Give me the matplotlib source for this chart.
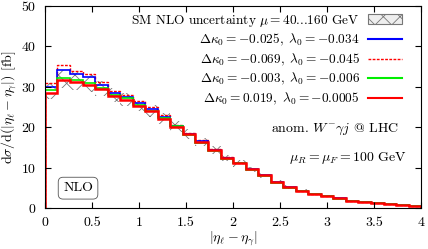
import numpy as np
import matplotlib
matplotlib.use("Agg")
import matplotlib.pyplot as plt
from matplotlib.patches import Patch
from matplotlib.lines import Line2D

plt.rcParams["font.family"] = "serif"
plt.rcParams["font.serif"] = ["cmr10"]
plt.rcParams["mathtext.fontset"] = "cm"
plt.rcParams["axes.formatter.use_mathtext"] = True
plt.rcParams["hatch.linewidth"] = 0.6

# ===== data (30 bins of width 4/30)
edges = np.linspace(0, 4, 31)

sm_lo = [27.0, 29.8, 29.3, 28.8, 27.8, 26.3, 25.3, 24.0, 22.5, 20.8, 18.9, 17.1, 15.3, 13.5, 11.6,
         10.3, 9.0, 7.6, 6.0, 4.9, 3.9, 3.2, 2.7, 2.2, 1.7, 1.4, 1.1, 0.9, 0.7, 0.45]
sm_hi = [31.0, 34.2, 33.8, 33.0, 31.5, 29.8, 28.6, 27.0, 25.6, 23.6, 21.5, 19.5, 17.4, 15.3, 13.2,
         11.9, 10.3, 8.7, 7.0, 5.8, 4.7, 3.9, 3.4, 2.7, 2.1, 1.8, 1.5, 1.2, 0.95, 0.65]

blue = [30.0, 34.1, 33.3, 32.5, 30.6, 28.6, 27.5, 26.1, 24.6, 22.6, 20.4, 18.5, 16.6, 14.5, 12.5,
        11.2, 9.7, 8.2, 6.5, 5.3, 4.3, 3.6, 3.1, 2.5, 1.9, 1.6, 1.3, 1.0, 0.8, 0.55]
dashed = [31.0, 35.3, 33.9, 33.1, 31.2, 29.0, 28.0, 26.6, 25.1, 23.0, 20.7, 18.7, 16.8, 14.6, 12.6,
          11.3, 9.8, 8.3, 6.6, 5.4, 4.4, 3.6, 3.1, 2.5, 1.9, 1.6, 1.3, 1.0, 0.8, 0.55]
green = [29.2, 32.3, 31.6, 31.0, 29.8, 28.1, 27.2, 25.6, 24.1, 22.3, 20.3, 18.2, 16.2, 14.3, 12.1,
         11.1, 9.5, 8.1, 6.4, 5.1, 4.3, 3.5, 3.1, 2.4, 1.9, 1.6, 1.3, 1.0, 0.8, 0.55]
red = [28.5, 31.8, 31.2, 30.6, 29.4, 27.8, 26.9, 25.4, 24.0, 22.2, 20.1, 18.3, 16.5, 14.4, 12.4,
       11.2, 9.7, 8.2, 6.5, 5.3, 4.3, 3.6, 3.1, 2.5, 1.9, 1.6, 1.3, 1.0, 0.8, 0.55]

labels = [r"SM NLO uncertainty $\mu=40$...$160$ GeV",
          r"$\Delta\kappa_0=-0.025,\ \lambda_0=-0.034$",
          r"$\Delta\kappa_0=-0.069,\ \lambda_0=-0.045$",
          r"$\Delta\kappa_0=-0.003,\ \lambda_0=-0.006$",
          r"$\Delta\kappa_0=0.019,\ \lambda_0=-0.0005$"]

fig = plt.figure(figsize=(4.28, 2.49), dpi=100)
ax = fig.add_axes([0.105, 0.163, 0.879, 0.813])

ax.stairs(sm_hi, edges, baseline=sm_lo, fill=True, facecolor="none",
          edgecolor="#777777", hatch="xx", lw=0)
ax.stairs(dashed, edges, color="red", lw=1.0, ls=(0, (2, 1)))
ax.stairs(blue, edges, color="blue", lw=1.2)
ax.stairs(green, edges, color="#00ee00", lw=1.2)
ax.stairs(red, edges, color="red", lw=1.8)

ax.set_xlim(0, 4)
ax.set_ylim(0, 50)
ax.set_xticks(np.arange(0, 4.01, 0.5))
ax.set_xticklabels(["0", "0.5", "1", "1.5", "2", "2.5", "3", "3.5", "4"])
ax.set_yticks(np.arange(0, 51, 10))
ax.tick_params(direction="in", top=True, right=True, labelsize=10, length=4, pad=6)
ax.set_xlabel(r"$|\eta_\ell-\eta_\gamma|$", fontsize=10, labelpad=1)
ax.set_ylabel(r"$\mathrm{d}\sigma/\mathrm{d}(|\eta_\ell-\eta_\gamma|)$ [fb]", fontsize=10, labelpad=2)

handles = [Patch(facecolor="#eeeeee", edgecolor="#777777", hatch="xx", lw=0.8),
           Line2D([], [], color="blue", lw=1.5),
           Line2D([], [], color="red", lw=1.0, ls=(0, (2, 1))),
           Line2D([], [], color="#00ee00", lw=1.5),
           Line2D([], [], color="red", lw=1.5)]
ax.legend(handles, labels, loc="upper right", bbox_to_anchor=(0.968, 1.0),
          markerfirst=False, frameon=False, fontsize=9.6,
          handlelength=2.6, handleheight=0.7, labelspacing=0.25, borderaxespad=0.2,
          handletextpad=0.6, borderpad=0.3)

ax.text(0.94, 0.39, r"anom. $W^{-}\gamma j$ @ LHC", transform=ax.transAxes,
        ha="right", va="center", fontsize=10)
ax.text(0.963, 0.25, r"$\mu_R=\mu_F=100$ GeV", transform=ax.transAxes,
        ha="right", va="center", fontsize=10)
ax.text(0.088, 0.10, "NLO", transform=ax.transAxes, ha="center", va="center", fontsize=10,
        bbox=dict(boxstyle="round,pad=0.35", facecolor="white", edgecolor="#555555", lw=0.6))

fig.savefig("out.png", dpi=100)
